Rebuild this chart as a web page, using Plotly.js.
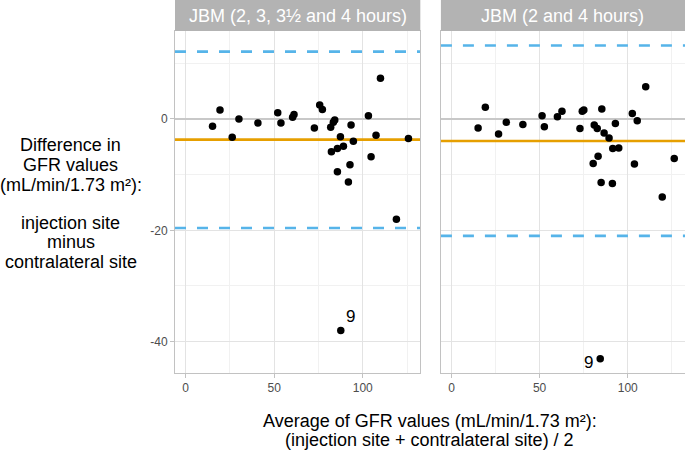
<!DOCTYPE html>
<html>
<head>
<meta charset="utf-8">
<script src="https://cdn.plot.ly/plotly-3.0.1.min.js"></script>
<style>html,body{margin:0;padding:0;background:#fff;}#chart{width:685px;height:453px;}</style>
</head>
<body>
<div id="chart"></div>
<script>
// Panel titles
const panelTitles = ["JBM (2, 3, 3½ and 4 hours)", "JBM (2 and 4 hours)"];

// Left panel: JBM (2, 3, 3½ and 4 hours)
const avgA = [15.2, 19.4, 26.3, 30.1, 40.8, 52.0, 53.8, 60.4, 61.2, 72.7, 75.7, 77.2, 84.2, 83.4, 81.9, 93.4, 87.4, 94.7, 82.3, 85.7, 89.1, 85.7, 92.8, 91.9, 103.2, 104.7, 107.5, 110.0, 125.8, 119.0, 87.6];
const diffA = [-1.3, 1.6, -3.3, 0.0, -0.7, 1.1, -0.7, 0.3, 0.8, -1.6, 2.5, 1.7, -0.2, -0.6, -1.5, -1.1, -3.2, -4.0, -5.9, -5.3, -4.9, -9.5, -8.2, -11.3, 0.6, -6.8, -2.9, 7.3, -3.5, -18.0, -38.0];

// Right panel: JBM (2 and 4 hours)
const avgB = [15.1, 19.2, 26.7, 31.1, 40.5, 51.4, 52.7, 60.1, 62.7, 72.9, 74.2, 75.1, 81.0, 82.7, 85.3, 86.6, 89.4, 93.0, 91.5, 94.9, 83.2, 80.4, 84.9, 91.3, 102.6, 105.4, 103.8, 110.2, 126.4, 119.6, 84.4];
const diffB = [-1.6, 2.1, -2.7, -0.6, -1.0, 0.6, -1.4, 0.4, 1.4, -1.7, 1.4, 1.6, -1.1, -1.7, 1.8, -2.5, -3.4, -0.8, -5.3, -5.2, -6.7, -8.0, -11.4, -11.6, 1.0, -0.3, -8.1, 5.8, -7.1, -14.0, -43.1];

// Reference lines per panel
const zeroLine = [0, 0];
const meanDiff = [-3.7, -3.95];
const upperLoA = [12.1, 13.2];
const lowerLoA = [-19.6, -21.0];

// Labelled outlier (subject id) per panel
const outlierLabel = ["9", "9"];
const outlierX = [87.6, 84.4];
const outlierY = [-38.0, -43.1];

// Tick labels
const xTicks = [0, 50, 100];
const yTicks = [-40, -20, 0];

// Axis titles (one entry per line)
const yTitleLines = ["Difference in", "GFR values", "(mL/min/1.73 m²):", "injection site", "minus", "contralateral site"];
const xTitleLines = ["Average of GFR values (mL/min/1.73 m²):", "(injection site + contralateral site) / 2"];

// Axis ranges
const xRange = [-6, 132.5];
const yRange = [-45.64, 15.81];

const FONT = "Liberation Sans, Arial, sans-serif";

const axisRefs = [['x', 'y'], ['x2', 'y2']];
const traces = [];
function hline(i, yv, color, width, dash) {
  traces.push({x: xRange, y: [yv, yv], type: 'scatter', mode: 'lines',
    xaxis: axisRefs[i][0], yaxis: axisRefs[i][1], line: {color: color, width: width, dash: dash},
    hoverinfo: 'skip', showlegend: false});
}
for (let i = 0; i < 2; i++) {
  hline(i, zeroLine[i], '#c8c8c8', 2, 'solid');
  hline(i, upperLoA[i], '#56B4E9', 2.6, '11px,11px');
  hline(i, lowerLoA[i], '#56B4E9', 2.6, '11px,11px');
  hline(i, meanDiff[i], '#E69F00', 2.6, 'solid');
}
traces.push({x: avgA, y: diffA, type: 'scatter', mode: 'markers', xaxis: 'x', yaxis: 'y',
   marker: {color: '#000000', size: 7.5}, hoverinfo: 'x+y', showlegend: false});
traces.push({x: avgB, y: diffB, type: 'scatter', mode: 'markers', xaxis: 'x2', yaxis: 'y2',
   marker: {color: '#000000', size: 7.5}, hoverinfo: 'x+y', showlegend: false});

const shapes = [];
const annotations = [];
for (let i = 0; i < 2; i++) {
  const xr = axisRefs[i][0];
  shapes.push({type: 'rect', layer: 'above', xref: xr + ' domain', yref: 'paper', x0: 0, x1: 1, y0: 1.0, y1: 1.0906, fillcolor: '#b3b3b3', line: {width: 0}});
  annotations.push({xref: xr + ' domain', yref: 'paper', x: 0.5, y: 1.0453, text: panelTitles[i], showarrow: false,
    xanchor: 'center', yanchor: 'middle', font: {family: FONT, size: 18, color: '#ffffff'}});
}
annotations.push({xref: 'x', yref: 'y', x: outlierX[0], y: outlierY[0], text: outlierLabel[0], showarrow: false,
  xshift: 10, yshift: 14, xanchor: 'center', yanchor: 'middle', font: {family: FONT, size: 17, color: '#000000'}});
annotations.push({xref: 'x2', yref: 'y2', x: outlierX[1], y: outlierY[1], text: outlierLabel[1], showarrow: false,
  xshift: -12, yshift: -4, xanchor: 'center', yanchor: 'middle', font: {family: FONT, size: 17, color: '#000000'}});

// y title lines (tight ggplot-like line spacing)
const yTitleY = [0.6667, 0.6082, 0.5497, 0.4386, 0.3830, 0.3246];
yTitleLines.forEach((t, k) => annotations.push({xref: 'paper', yref: 'paper', x: -0.2045, y: yTitleY[k],
  xanchor: 'center', yanchor: 'middle', showarrow: false, text: t, font: {family: FONT, size: 18, color: '#000000'}}));
const xTitleY = [-0.1404, -0.1959];
xTitleLines.forEach((t, k) => annotations.push({xref: 'paper', yref: 'paper', x: 0.4997, y: xTitleY[k],
  xanchor: 'center', yanchor: 'middle', showarrow: false, text: t, font: {family: FONT, size: 18, color: '#000000'}}));

function xAxis(domain, anchor) {
  return {
    domain: domain, anchor: anchor, range: xRange, tickvals: xTicks, ticktext: xTicks.map(String),
    showgrid: true, gridcolor: '#e3e3e3', gridwidth: 1,
    minor: {dtick: 25, tick0: 0, showgrid: true, gridcolor: '#f1f1f1', gridwidth: 1},
    zeroline: false, showline: true, mirror: true, linecolor: '#c2c2c2', linewidth: 1,
    ticks: 'outside', ticklen: 4, tickcolor: '#c2c2c2', tickwidth: 1,
    tickfont: {family: FONT, size: 12, color: '#4d4d4d'}, fixedrange: true
  };
}
function yAxis(anchor, showLabels) {
  return {
    anchor: anchor, domain: [0, 1], range: yRange, tickvals: yTicks, ticktext: yTicks.map(String),
    showticklabels: showLabels,
    showgrid: true, gridcolor: '#e3e3e3', gridwidth: 1,
    minor: {dtick: 10, tick0: 0, showgrid: true, gridcolor: '#f1f1f1', gridwidth: 1},
    zeroline: false, showline: true, mirror: true, linecolor: '#c2c2c2', linewidth: 1,
    ticks: showLabels ? 'outside' : '', ticklen: 4, tickcolor: '#c2c2c2', tickwidth: 1,
    tickfont: {family: FONT, size: 12, color: '#4d4d4d'}, fixedrange: true
  };
}

const layout = {
  width: 685, height: 453,
  margin: {l: 175, r: 0, t: 31, b: 80, pad: 0},
  paper_bgcolor: '#ffffff', plot_bgcolor: '#ffffff',
  font: {family: FONT, color: '#000000'},
  showlegend: false,
  xaxis: xAxis([0, 0.481], 'y'),
  xaxis2: xAxis([0.5214, 1], 'y2'),
  yaxis: yAxis('x', true),
  yaxis2: yAxis('x2', false),
  shapes: shapes,
  annotations: annotations
};

Plotly.newPlot('chart', traces, layout, {displayModeBar: false, staticPlot: true});
</script>
</body>
</html>
